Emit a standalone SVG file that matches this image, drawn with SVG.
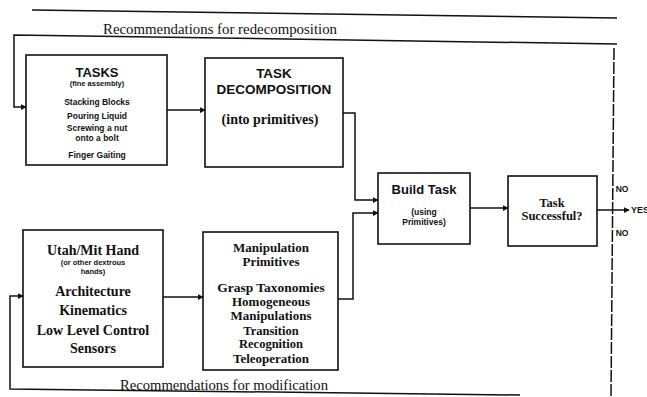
<svg xmlns="http://www.w3.org/2000/svg" width="647" height="397" viewBox="0 0 647 397">
<style>
.box{fill:none;stroke:#111;stroke-width:1.6}
.ln{fill:none;stroke:#111;stroke-width:1.5}
.sans{font-family:"Liberation Sans",Arial,sans-serif;font-weight:bold;fill:#111;text-anchor:middle}
.serif{font-family:"Liberation Serif","Times New Roman",serif;font-weight:bold;fill:#111;text-anchor:middle}
.lbl{font-family:"Liberation Serif","Times New Roman",serif;fill:#111}
</style>
<defs>
<marker id="ah" viewBox="0 0 8 8" refX="7" refY="4" markerWidth="6" markerHeight="6" markerUnits="userSpaceOnUse" orient="auto">
<path d="M0,0 L8,4 L0,8 z" fill="#111"/>
</marker>
</defs>
<rect width="647" height="397" fill="#fff"/>
<line class="ln" x1="32" y1="10" x2="617" y2="18"/>
<g id="connectors">
<polyline class="ln" points="617,44 14,35 14,107 26,107" marker-end="url(#ah)"/>
<polyline class="ln" points="520,395 10,389 10,296 23,296" marker-end="url(#ah)"/>
<line class="ln" x1="167" y1="110" x2="205" y2="110" marker-end="url(#ah)"/>
<line class="ln" x1="163" y1="297" x2="203" y2="297" marker-end="url(#ah)"/>
<polyline class="ln" points="343,113 355,113 355,200 378,200" marker-end="url(#ah)"/>
<polyline class="ln" points="338,299 353,299 353,213 378,213" marker-end="url(#ah)"/>
<line class="ln" x1="470" y1="208" x2="508" y2="208" marker-end="url(#ah)"/>
<line class="ln" x1="597" y1="210" x2="629" y2="210" marker-end="url(#ah)"/>
<line class="ln" x1="614" y1="48" x2="611" y2="397" stroke-dasharray="12 2"/>
<text class="lbl" x="103" y="34" font-size="14" textLength="234" lengthAdjust="spacingAndGlyphs">Recommendations for redecomposition</text>
<text class="lbl" x="120" y="390" font-size="14" textLength="208" lengthAdjust="spacingAndGlyphs">Recommendations for modification</text>
<text class="sans" x="622" y="192" font-size="8.5">NO</text>
<text class="sans" x="622" y="236" font-size="8.5">NO</text>
<text class="sans" x="631" y="213" font-size="9" style="text-anchor:start">YES</text>
</g>
<g id="tasks">
<rect class="box" x="26" y="55" width="141" height="110"/>
<text class="sans" x="97" y="77" font-size="13">TASKS</text>
<text class="sans" x="97" y="86" font-size="7.5">(fine assembly)</text>
<text class="sans" x="97" y="105" font-size="8.5">Stacking Blocks</text>
<text class="sans" x="97" y="119" font-size="8.5">Pouring Liquid</text>
<text class="sans" x="97" y="131" font-size="8.5">Screwing a nut</text>
<text class="sans" x="97" y="141" font-size="8.5">onto a bolt</text>
<text class="sans" x="97" y="158" font-size="8.5">Finger Gaiting</text>
</g>
<g id="decomposition">
<rect class="box" x="205" y="58" width="138" height="109"/>
<text class="sans" x="274" y="78" font-size="13.5">TASK</text>
<text class="sans" x="274" y="94" font-size="13.5">DECOMPOSITION</text>
<text class="serif" x="270" y="124" font-size="14">(into primitives)</text>
</g>
<g id="hand">
<rect class="box" x="23" y="230" width="140" height="137"/>
<text class="serif" x="93" y="255" font-size="14">Utah/Mit Hand</text>
<text class="sans" x="93" y="265" font-size="7.5">(or other dextrous</text>
<text class="sans" x="93" y="274" font-size="7.5">hands)</text>
<text class="serif" x="93" y="296" font-size="14">Architecture</text>
<text class="serif" x="93" y="315" font-size="14">Kinematics</text>
<text class="serif" x="93" y="335" font-size="14">Low Level Control</text>
<text class="serif" x="93" y="353" font-size="14">Sensors</text>
</g>
<g id="primitives">
<rect class="box" x="203" y="232" width="135" height="138"/>
<text class="serif" x="271" y="252" font-size="13">Manipulation</text>
<text class="serif" x="271" y="266" font-size="13">Primitives</text>
<text class="serif" x="271" y="292" font-size="13.5">Grasp Taxonomies</text>
<text class="serif" x="271" y="306" font-size="13">Homogeneous</text>
<text class="serif" x="271" y="320" font-size="13">Manipulations</text>
<text class="serif" x="271" y="335" font-size="12.5">Transition</text>
<text class="serif" x="271" y="348" font-size="12.5">Recognition</text>
<text class="serif" x="271" y="363" font-size="13">Teleoperation</text>
</g>
<g id="build">
<rect class="box" x="378" y="173" width="92" height="71"/>
<text class="sans" x="424" y="194" font-size="13">Build Task</text>
<text class="sans" x="424" y="215" font-size="8.5">(using</text>
<text class="sans" x="424" y="225" font-size="8.5">Primitives)</text>
</g>
<g id="success">
<rect class="box" x="508" y="176" width="89" height="70"/>
<text class="serif" x="552" y="207" font-size="12.5" font-weight="normal">Task</text>
<text class="serif" x="552" y="220" font-size="12.5" font-weight="normal">Successful?</text>
</g>
</svg>
